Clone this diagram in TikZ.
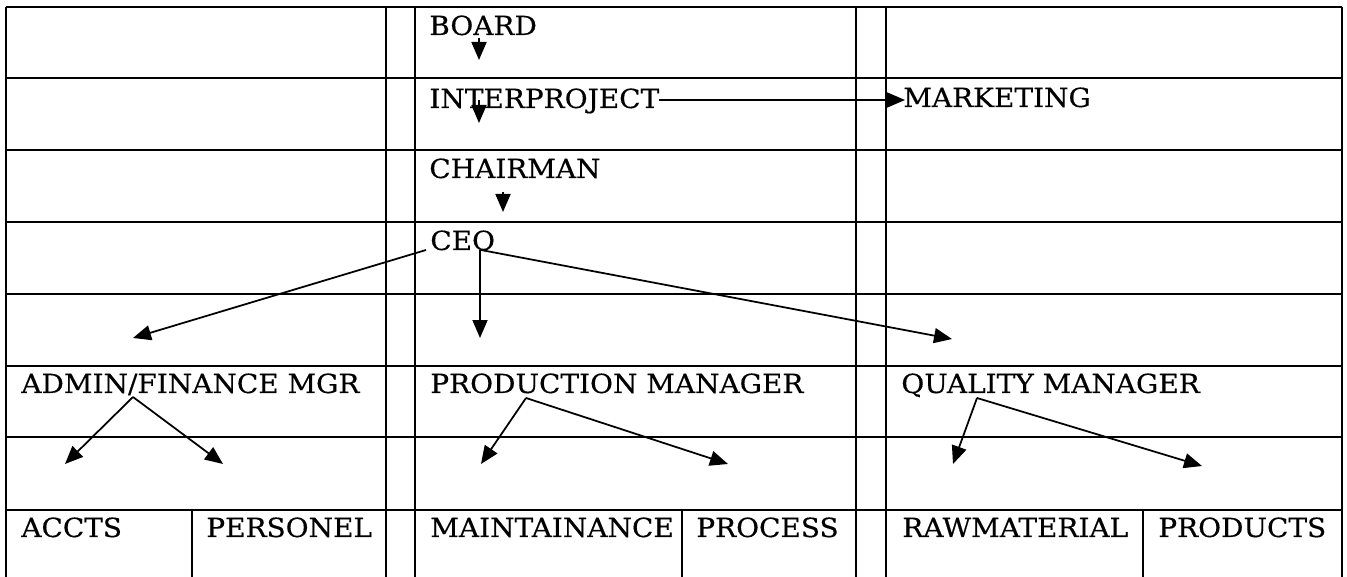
\documentclass[tikz,border=0pt]{standalone}
\usepackage{fontspec}
\setmainfont{DejaVu Serif}[FakeStretch=1.06,FakeBold=0.4]
\usetikzlibrary{arrows.meta}
\tikzset{
  >={Triangle[length=3.6mm,width=3mm]},
  rule/.style={line width=1.5pt,draw=black},
  rulethin/.style={line width=.8pt,draw=black},
  lbl/.style={anchor=base west,inner sep=0pt,font=\fontsize{15}{18}\selectfont},
  link/.style={->,line width=1pt}
}
\begin{document}
\begin{tikzpicture}[x=0.02cm,y=-0.02cm]
  \useasboundingbox (0,0) rectangle (1347,577);
  % table rules
  \foreach \y in {7,78,150,222,294,366,510}
    \draw[rule] (6,\y) -- (1342,\y);
  \draw[rulethin] (6,437) -- (1342,437);
  \foreach \x in {6,386,415,856,1342}
    \draw[rule] (\x,7) -- (\x,577);
  \draw[rulethin] (886,7) -- (886,577);
  \foreach \x in {192,682,1143}
    \draw[rule] (\x,510) -- (\x,577);

  % top of the chart
  \node[lbl] (board) at (429,35) {BOARD};
  \node[lbl] (inter) at (429,108) {INTERPROJECT};
  \node[lbl] (mkt) at (903,107) {MARKETING};
  \node[lbl] (chair) at (429,178) {CHAIRMAN};
  \node[lbl] (ceo) at (430,250) {CEO};

  % managers
  \node[lbl] (admin) at (21,393) {ADMIN/FINANCE MGR};
  \node[lbl] (prod) at (430,393) {PRODUCTION MANAGER};
  \node[lbl] (qual) at (901,393) {QUALITY MANAGER};

  % departments
  \node[lbl] (accts) at (21,537) {ACCTS};
  \node[lbl] (pers) at (206,537) {PERSONEL};
  \node[lbl] (maint) at (430,537) {MAINTAINANCE};
  \node[lbl] (proc) at (696,537) {PROCESS};
  \node[lbl] (raw) at (902,537) {RAWMATERIAL};
  \node[lbl] (prods) at (1158,537) {PRODUCTS};

  % arrow ends
  \coordinate (board-out) at (479,38);
  \coordinate (board-in) at (479,60);
  \coordinate (inter-out) at (479,100);
  \coordinate (inter-in) at (479,123);
  \coordinate (mkt-out) at (659,100);
  \coordinate (mkt-in) at (905,100);
  \coordinate (chair-out) at (503,192);
  \coordinate (chair-in) at (503,212);
  \coordinate (ceo-l) at (426,250);
  \coordinate (ceo-m) at (480,250);
  \coordinate (ceo-r) at (481,250);
  \coordinate (admin-in) at (133,338);
  \coordinate (prod-in) at (480,338);
  \coordinate (qual-in) at (952,339);
  \coordinate (admin-out) at (133,397);
  \coordinate (prod-out) at (526,398);
  \coordinate (qual-out) at (977,398);
  \coordinate (accts-in) at (65,464);
  \coordinate (pers-in) at (223,464);
  \coordinate (maint-in) at (481,464);
  \coordinate (proc-in) at (728,464);
  \coordinate (raw-in) at (953,464);
  \coordinate (prods-in) at (1202,466);

  \draw[link] (board-out) -- (board-in);
  \draw[link] (inter-out) -- (inter-in);
  \draw[link] (mkt-out) -- (mkt-in);
  \draw[link] (chair-out) -- (chair-in);
  \draw[link] (ceo-l) -- (admin-in);
  \draw[link] (ceo-m) -- (prod-in);
  \draw[link] (ceo-r) -- (qual-in);
  \draw[link] (admin-out) -- (accts-in);
  \draw[link] (admin-out) -- (pers-in);
  \draw[link] (prod-out) -- (maint-in);
  \draw[link] (prod-out) -- (proc-in);
  \draw[link] (qual-out) -- (raw-in);
  \draw[link] (qual-out) -- (prods-in);
\end{tikzpicture}
\end{document}
